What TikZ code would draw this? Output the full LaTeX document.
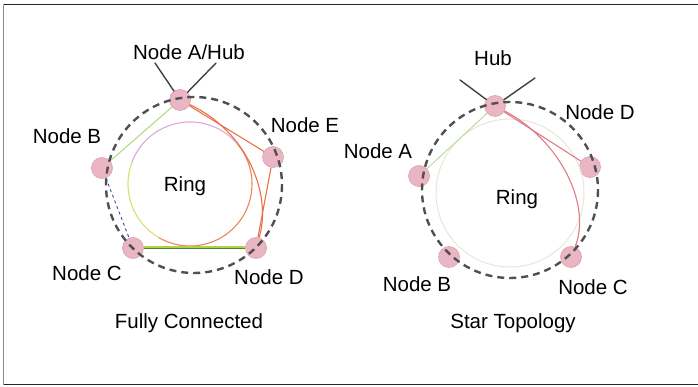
\documentclass[tikz,border=0pt]{standalone}
\usepackage{fontspec}
\setmainfont{Liberation Sans}
\definecolor{ringgray}{HTML}{505050}
\definecolor{nodepink}{HTML}{EAB6C4}
\definecolor{nodeedge}{HTML}{D9A0B0}
\definecolor{lgreen}{HTML}{B5D88A}
\definecolor{bluedash}{HTML}{3A4FA0}
\definecolor{cdgreen}{HTML}{3E8A4A}
\definecolor{cdyellow}{HTML}{B8D040}
\definecolor{edgeorange}{HTML}{E8704A}
\definecolor{innerpink}{HTML}{E0A8D8}
\definecolor{inneryellow}{HTML}{D8E070}
\definecolor{innerorange}{HTML}{E88858}
\definecolor{rpink}{HTML}{E07A85}
\definecolor{rgreen}{HTML}{BCE0A8}
\definecolor{faint}{HTML}{E6E6DC}
\definecolor{feedgray}{HTML}{404040}
\begin{document}
\begin{tikzpicture}[x=1pt,y=-1pt,
  lbl/.style={font=\fontsize{20.5}{24}\selectfont, anchor=base, inner sep=0pt},
  pnode/.style={circle, fill=nodepink, draw=nodeedge, line width=0.6pt, minimum size=21pt, inner sep=0pt},
  ringline/.style={draw=ringgray, line width=2.4pt, dash pattern=on 7pt off 5pt},
  feed/.style={draw=feedgray, line width=1.4pt, line cap=round},
  thinedge/.style={line width=1.1pt}]
\useasboundingbox (0,0) rectangle (698,387);
% frame
\draw[line width=1.5pt, black!85] (698,4.5) -- (3.5,4.5);
\draw[line width=1.5pt, black!85] (3.5,384.5) -- (698,384.5);
\draw[line width=1.5pt, black!45] (3.5,4.5) -- (3.5,384.5);

% ---------------- left: fully connected ----------------
\node[pnode] (LA) at (180,100) {};
\node[pnode] (LB) at (102,168) {};
\node[pnode] (LE) at (273,157) {};
\node[pnode] (LC) at (133,248) {};
\node[pnode] (LD) at (256,248) {};

% inner ring arcs
\draw[innerpink, thinedge] (190,184) ++(200:62) arc[start angle=200, end angle=320, radius=62];
\draw[innerorange, thinedge] (190,184) ++(320:62) arc[start angle=320, end angle=480, radius=62];
\draw[inneryellow, thinedge] (190,184) ++(120:62) arc[start angle=120, end angle=200, radius=62];

% edges
\draw[lgreen, thinedge] (LA) -- (LB);
\draw[bluedash, line width=0.9pt, dashed] (LB) -- (LC);
\draw[cdyellow, line width=1.6pt] ([yshift=1.2pt]LC.east) -- ([yshift=1.2pt]LD.west);
\draw[cdgreen, line width=1.4pt] ([yshift=-0.6pt]LC.east) -- ([yshift=-0.6pt]LD.west);
\draw[edgeorange, thinedge] (LA) -- (LE);
\draw[edgeorange, thinedge] (LE) -- (LD);
\draw[edgeorange, thinedge] (LA) .. controls (248,132) and (272,195) .. (LD);

% feeds into hub
\coordinate (LF1) at (155,63);
\coordinate (LF2) at (216,63);
\draw[feed] (LF1) -- (LA);
\draw[feed] (LF2) -- (LA);

% dashed ring
\draw[ringline] (194,185) circle[radius=88];

% labels
\node[lbl] (tLA) at (189,59.5) {Node A/Hub};
\node[lbl] (tLB) at (67,143.5) {Node B};
\node[lbl] (tLE) at (305,132.5) {Node E};
\node[lbl] (tLR) at (185,191.5) {Ring};
\node[lbl] (tLC) at (87,280.5) {Node C};
\node[lbl] (tLD) at (269,284.5) {Node D};
\node[lbl] (tL) at (189,328.5) {Fully Connected};

% ---------------- right: star topology ----------------
\node[pnode] (RH) at (495,106) {};
\node[pnode] (RA) at (419,176) {};
\node[pnode] (RD) at (590,167) {};
\node[pnode] (RB) at (449,257) {};
\node[pnode] (RC) at (571,257) {};

\draw[faint, line width=1pt] (510,193) circle[radius=74];

\draw[rgreen, thinedge] (RH) -- (RA);
\draw[rpink, thinedge] (RH) -- (RD);
\draw[rpink, thinedge] (RH) .. controls (560,140) and (592,205) .. (RC);

\coordinate (RF1) at (460,80);
\coordinate (RF2) at (535,78);
\draw[feed] (RF1) -- (RH);
\draw[feed] (RF2) -- (RH);

\draw[ringline] (510,190) circle[radius=88];

\node[lbl] (tRH) at (493,65.5) {Hub};
\node[lbl] (tRA) at (378,158.5) {Node A};
\node[lbl] (tRD) at (600,119.5) {Node D};
\node[lbl] (tRR) at (517,204.5) {Ring};
\node[lbl] (tRB) at (417,291.5) {Node B};
\node[lbl] (tRC) at (593,294.5) {Node C};
\node[lbl] (tR) at (513,328.5) {Star Topology};
\end{tikzpicture}
\end{document}
